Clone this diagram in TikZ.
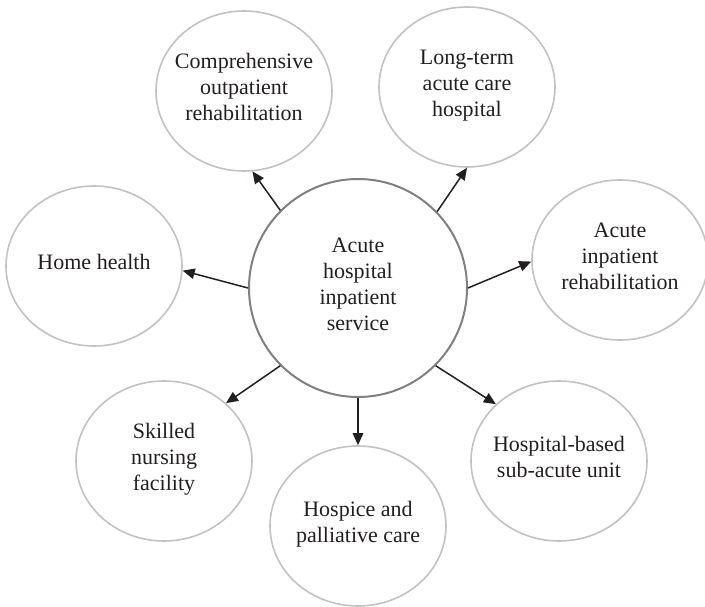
\documentclass[tikz,border=0pt]{standalone}
\usepackage{fontspec}
\setmainfont{Liberation Serif}
\usetikzlibrary{shapes.geometric,arrows.meta}
\definecolor{ink}{HTML}{231F20}
\definecolor{rimlight}{HTML}{C2C2C4}
\definecolor{rimdark}{HTML}{808082}
\tikzset{
  careopt/.style={ellipse, draw=rimlight, line width=1.6pt, minimum width=176pt,
    minimum height=160pt, inner sep=-30pt, align=center, text=ink, text depth=8pt,
    font=\fontsize{22}{26}\selectfont},
  hub/.style={circle, draw=rimdark, line width=2pt, minimum size=218pt,
    inner sep=-30pt, align=center, text=ink, text depth=8pt,
    font=\fontsize{22}{26}\selectfont},
  flow/.style={draw=ink, line width=1.5pt, -{Triangle[length=12pt,width=10.5pt]}}
}
\begin{document}
\begin{tikzpicture}[x=1pt,y=-1pt]
  \useasboundingbox (0,0) rectangle (705,607);
  \node[hub] (acute) at (358,288) {Acute\\hospital\\inpatient\\service};
  \node[careopt] (comp) at (244,91) {Comprehensive\\outpatient\\rehabilitation};
  \node[careopt] (ltach) at (467,87) {Long-term\\acute care\\hospital};
  \node[careopt] (irf) at (620,260) {Acute\\inpatient\\rehabilitation};
  \node[careopt] (home) at (94,266) {Home health};
  \node[careopt] (snf) at (164,461) {Skilled\\nursing\\facility};
  \node[careopt] (hospice) at (358,526) {Hospice and\\palliative care};
  \node[careopt] (subacute) at (559,461) {Hospital-based\\sub-acute unit};

  \draw[flow] (acute.135) -- (comp.276);
  \draw[flow] (acute.44) -- (ltach.270);
  \draw[flow] (acute.0) -- (irf.181);
  \draw[flow] (acute.180) -- (home.357);
  \draw[flow] (acute.225) -- (snf.43);
  \draw[flow] (acute.270) -- (hospice.90);
  \draw[flow] (acute.315) -- (subacute.138);
\end{tikzpicture}
\end{document}
